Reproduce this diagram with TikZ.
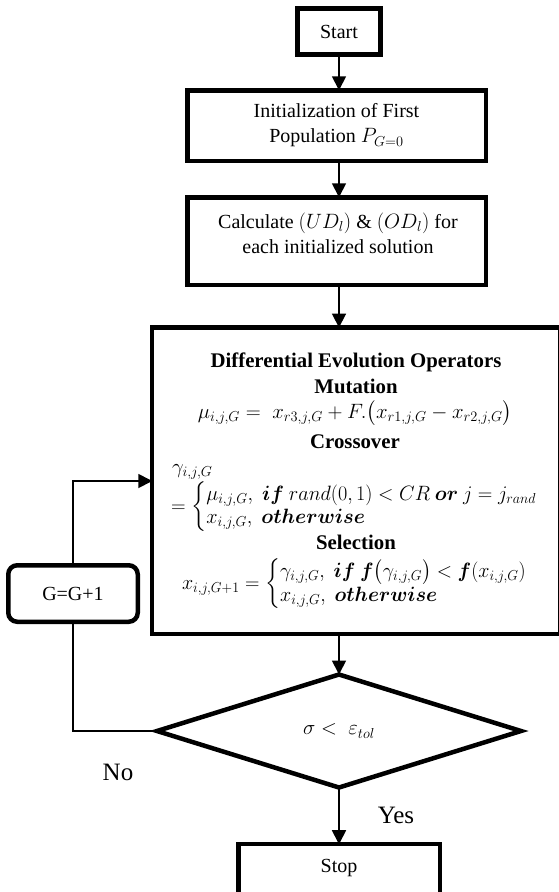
\documentclass[tikz,border=0pt]{standalone}
\usepackage{amsmath}
\usepackage{bm}
\usepackage{fontspec}
\setmainfont{Liberation Serif}
\usetikzlibrary{arrows.meta,shapes.geometric}
\newcommand\fsz{\fontsize{20}{25}\selectfont}
\newcommand\hdfsz{\fontsize{20.8}{25}\selectfont\bfseries}
\newcommand\bigfsz{\fontsize{25}{30}\selectfont}
\begin{document}
\begin{tikzpicture}[x=1pt,y=-1pt,
  box/.style={draw, line width=4.5pt, inner sep=0pt, outer sep=0pt, align=center, font=\fsz},
  conn/.style={line width=1.8pt, -{Triangle[length=14pt,width=14pt]}},
  plainline/.style={line width=1.8pt},
  txt/.style={inner sep=0pt, outer sep=0pt, align=center, font=\fsz},
  head/.style={txt, font=\hdfsz},
  lbl/.style={inner sep=0pt, outer sep=0pt, font=\bigfsz}]
\useasboundingbox (0,0) rectangle (558,892);
\renewcommand\arraystretch{0.92}
% boxes
\node[box, line width=5pt, minimum width=83pt, minimum height=46pt] (start) at (339,31.5) {Start};
\node[box, minimum width=298.5pt, minimum height=70.5pt] (init) at (336.5,125.5)
  {Initialization of First\\Population $P_{G=0}$};
\node[box, minimum width=298.5pt, minimum height=87.5pt] (calc) at (336.5,241) {};
\node[txt] (calctxt) at (338,233.5) {Calculate $(UD_l)$ \& $(OD_l)$ for\\each initialized solution};
\node[box, minimum width=407.75pt, minimum height=306.5pt] (de) at (356.1,480.8) {};
\node[box, shape=diamond, aspect=3.2, minimum width=364pt, minimum height=113pt] (dec) at (339,731)
  {$\sigma <\; \varepsilon_{tol}$};
\node[box, rounded corners=9pt, minimum width=129.5pt, minimum height=56.5pt] (gbox) at (73,593.5) {G=G+1};
\node[box, minimum width=201.5pt, minimum height=50.75pt] (stop) at (339,869.6) {};
\node[txt] (stoptxt) at (339,868) {Stop};
% DE contents
\node[head] (detitle) at (356,362.5) {Differential Evolution Operators};
\node[head] (mut) at (356,386.5) {Mutation};
\node[txt] (muteq) at (355,413) {$\mu_{i,j,G} =\; x_{r3,j,G} + F.\big(x_{r1,j,G} - x_{r2,j,G}\big)$};
\node[head] (cross) at (355,442) {Crossover};
\node[txt, anchor=west] (gam) at (172,472) {$\gamma_{i,j,G}$};
\node[txt, anchor=west] (crosseq) at (171,507)
  {\scalebox{0.975}[1]{$=\left\{\begin{array}{@{}l@{}}\mu_{i,j,G},\; \bm{if}\ rand(0,1) < CR\ \bm{or}\ j = j_{rand}\\ x_{i,j,G},\; \bm{otherwise}\end{array}\right.$}};
\node[head] (sel) at (356,542.5) {Selection};
\node[txt, anchor=west] (seleq) at (182,584)
  {\scalebox{0.965}[1]{$x_{i,j,G+1} = \left\{\begin{array}{@{}l@{}}\gamma_{i,j,G},\; \bm{if}\ \bm{f}\big(\gamma_{i,j,G}\big) < \bm{f}(x_{i,j,G})\\ x_{i,j,G},\; \bm{otherwise}\end{array}\right.$}};
% labels
\node[lbl] (no) at (118,772) {No};
\node[lbl] (yes) at (396,815) {Yes};
% connectors
\coordinate (dein) at (152.25,481);
\draw[conn] (start.south) -- (start.south |- init.north);
\draw[conn] (init.south -| start.south) -- (calc.north -| start.south);
\draw[conn] (calc.south -| start.south) -- (de.north -| start.south);
\draw[conn] (de.south -| dec.north) -- (dec.north);
\draw[conn] (dec.south) -- (stop.north -| dec.south);
\draw[plainline] (dec.west) -| (gbox.south);
\draw[conn] (gbox.north) |- (dein);
\end{tikzpicture}
\end{document}
